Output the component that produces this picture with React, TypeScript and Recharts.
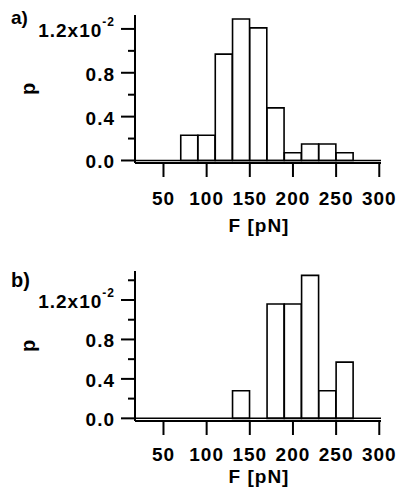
import React from 'react';
import { ComposedChart, Bar, XAxis, YAxis, ReferenceLine } from 'recharts';

// ---- data ----
const binCentersA = [80, 100, 120, 140, 160, 180, 200, 220, 240, 260];
const probA = [0.0023, 0.0023, 0.0097, 0.0129, 0.0121, 0.0048, 0.0007, 0.0015, 0.0015, 0.0007];
const binCentersB = [140, 160, 180, 200, 220, 240, 260];
const probB = [0.0028, 0, 0.0116, 0.0116, 0.0145, 0.0028, 0.0057];
const xTicks = [50, 100, 150, 200, 250, 300];
const yTicksA = [0, 0.002, 0.004, 0.006, 0.008, 0.01, 0.012];
const yTicksB = [0, 0.002, 0.004, 0.006, 0.008, 0.01, 0.012, 0.014];
const xDomain: [number, number] = [17, 302];
const yDomainA: [number, number] = [-0.00023, 0.01327];
const yDomainB: [number, number] = [-0.00027, 0.01494];
const xLabel = 'F [pN]';
const yLabel = 'p';
const panelLabels = ['a)', 'b)'];

const FONT = '"Liberation Sans", Arial, Helvetica, sans-serif';

const dataA = binCentersA.map((F, i) => ({ F, p: probA[i] }));
const dataB = binCentersB.map((F, i) => ({ F, p: probB[i] }));

const XTick = (props: any) => {
  const { x, y, payload } = props;
  return (
    <text
      x={x}
      y={y}
      dy="0.71em"
      textAnchor="middle"
      fill="#000"
      fontSize={19}
      fontWeight="bold"
      fontFamily={FONT}
      style={{ letterSpacing: '1px' }}
    >
      {payload.value}
    </text>
  );
};

const YTick = (props: any) => {
  const { x, y, payload } = props;
  const v = payload.value as number;
  const k = Math.round(v * 1000);
  const major = k % 4 === 0;
  const len = major ? 14 : 7;
  const common = {
    textAnchor: 'end' as const,
    fill: '#000',
    fontSize: 19,
    fontWeight: 'bold' as const,
    fontFamily: FONT,
    style: { letterSpacing: '1px' },
  };
  return (
    <g>
      <line x1={x - len} x2={x} y1={y} y2={y} stroke="#000" strokeWidth={2} />
      {major &&
        (k === 12 ? (
          <text x={x - 20} y={y + 8} {...common}>
            <tspan>1.2x10</tspan>
            <tspan dy={-11} fontSize={12}>
              -2
            </tspan>
          </text>
        ) : (
          <text x={x - 20} y={y + 8} {...common}>
            {(v * 100).toFixed(1)}
          </text>
        ))}
    </g>
  );
};

const PLabel = (props: any) => {
  const vb = props.viewBox || {};
  const cx = 35;
  const cy = vb.y + vb.height / 2;
  return (
    <text
      x={cx}
      y={cy}
      transform={`rotate(-90, ${cx}, ${cy})`}
      textAnchor="middle"
      fill="#000"
      fontSize={20}
      fontWeight="bold"
      fontFamily={FONT}
    >
      {yLabel}
    </text>
  );
};

const FLabel = (props: any) => {
  const vb = props.viewBox || {};
  const { up } = props;
  return (
    <text
      x={vb.x + vb.width / 2 + 1}
      y={vb.y + vb.height - up}
      textAnchor="middle"
      fill="#000"
      fontSize={19}
      fontWeight="bold"
      fontFamily={FONT}
      style={{ letterSpacing: '1px' }}
    >
      {xLabel}
    </text>
  );
};

type PanelProps = {
  data: { F: number; p: number }[];
  yDomain: [number, number];
  yTicks: number[];
  height: number;
  xAxisHeight: number;
  tickMargin: number;
  labelUp: number;
};

const Panel = ({ data, yDomain, yTicks, height, xAxisHeight, tickMargin, labelUp }: PanelProps) => (
  <ComposedChart
    width={397}
    height={height}
    data={data}
    margin={{ top: 15, right: 16, bottom: 0, left: 0 }}
    barCategoryGap={0}
    barGap={0}
  >
    <XAxis
      xAxisId={0}
      dataKey="F"
      type="number"
      domain={xDomain}
      allowDataOverflow
      ticks={xTicks}
      interval={0}
      height={xAxisHeight}
      tickSize={14}
      tickMargin={tickMargin}
      tickLine={{ stroke: '#000', strokeWidth: 2 }}
      axisLine={{ stroke: '#000', strokeWidth: 2 }}
      tick={<XTick />}
      label={<FLabel up={labelUp} />}
    />
    <XAxis
      xAxisId="top"
      orientation="top"
      dataKey="F"
      type="number"
      domain={xDomain}
      allowDataOverflow
      height={0}
      tick={false}
      tickLine={false}
      axisLine={{ stroke: '#000', strokeWidth: 2 }}
    />
    <YAxis
      yAxisId={0}
      type="number"
      domain={yDomain}
      allowDataOverflow
      ticks={yTicks}
      interval={0}
      width={135}
      tickSize={0}
      tickMargin={0}
      tickLine={false}
      axisLine={{ stroke: '#000', strokeWidth: 2 }}
      tick={<YTick />}
      label={<PLabel />}
    />
    <YAxis
      yAxisId="right"
      orientation="right"
      type="number"
      domain={yDomain}
      allowDataOverflow
      width={0}
      tick={false}
      tickLine={false}
      axisLine={{ stroke: '#000', strokeWidth: 2 }}
    />
    <Bar
      dataKey="p"
      xAxisId={0}
      yAxisId={0}
      fill="#fff"
      stroke="#000"
      strokeWidth={1.6}
      isAnimationActive={false}
    />
    <ReferenceLine xAxisId={0} yAxisId={0} y={0} stroke="#000" strokeWidth={1.5} />
  </ComposedChart>
);

const panelTextStyle = {
  fill: '#000',
  fontWeight: 'bold' as const,
  fontFamily: FONT,
};

export default function App() {
  return (
    <div style={{ position: 'absolute', left: 0, top: 0, width: 397, height: 488, background: '#fff' }}>
      <div style={{ position: 'absolute', left: 0, top: 0 }}>
        <Panel
          data={dataA}
          yDomain={yDomainA}
          yTicks={yTicksA}
          height={240}
          xAxisHeight={77}
          tickMargin={15}
          labelUp={8.5}
        />
      </div>
      <div style={{ position: 'absolute', left: 0, top: 256 }}>
        <Panel
          data={dataB}
          yDomain={yDomainB}
          yTicks={yTicksB}
          height={232}
          xAxisHeight={67}
          tickMargin={13}
          labelUp={5}
        />
      </div>
      <svg
        width={397}
        height={488}
        style={{ position: 'absolute', left: 0, top: 0, pointerEvents: 'none' }}
      >
        <text x={11} y={23.5} fontSize={19} {...panelTextStyle}>
          {panelLabels[0]}
        </text>
        <text x={11} y={287} fontSize={20} {...panelTextStyle}>
          {panelLabels[1]}
        </text>
      </svg>
    </div>
  );
}
